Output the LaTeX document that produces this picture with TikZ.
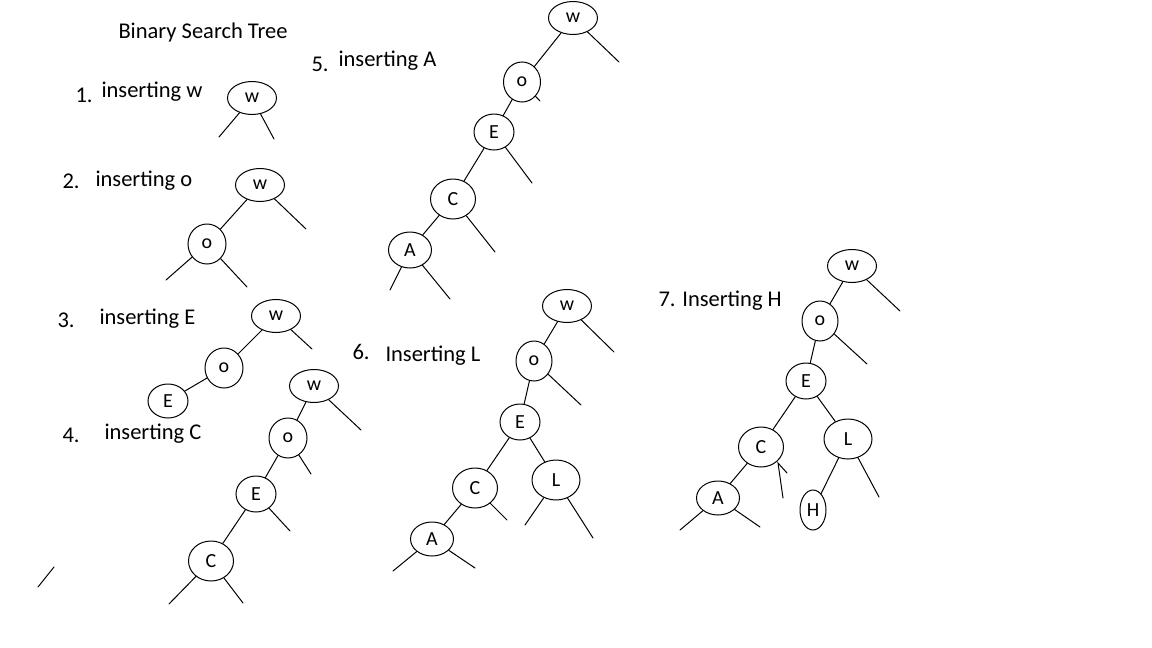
\documentclass[tikz,border=0pt]{standalone}
\usepackage{fontspec}
\setmainfont{Carlito}
\usetikzlibrary{shapes.geometric}

\begin{document}
\begin{tikzpicture}[x=1pt,y=-1pt,line cap=round,line width=1pt,
    txt/.style={anchor=west,inner sep=0pt,font=\fontsize{22.5}{24}\selectfont},
    key/.style={ellipse,draw,inner sep=0pt,minimum width=49pt,minimum height=33pt,font=\fontsize{20}{22}\selectfont},
    rnd/.style={ellipse,draw,inner sep=0pt,minimum width=38pt,minimum height=40pt,font=\fontsize{20}{22}\selectfont}]
    \useasboundingbox (0,0) rectangle (1152,648);

    % titles
    \node[txt] (title) at (118,33) {Binary Search Tree};
    \node[txt] (n1) at (75,95) {1.};
    \node[txt] (t1) at (101,92) {inserting w};
    \node[txt] (n2) at (62,181) {2.};
    \node[txt] (t2) at (95,181) {inserting o};
    \node[txt] (n3) at (57,320) {3.};
    \node[txt] (t3) at (99,319) {inserting E};
    \node[txt] (n4) at (62,435) {4.};
    \node[txt] (t4) at (104,434) {inserting C};
    \node[txt] (n5) at (311,64) {5.};
    \node[txt] (t5) at (338,61) {inserting A};
    \node[txt] (n6) at (352,352) {6.};
    \node[txt] (t6) at (385,356) {Inserting L};
    \node[txt] (t7) at (658,301) {7. Inserting H};

    % tree 1
    \node[key] (w1) at (252,98) {w};
    \coordinate (w1l) at (219,137);
    \coordinate (w1r) at (274,139);
    \draw (w1) -- (w1l);
    \draw (w1) -- (w1r);

    % tree 2
    \node[key] (w2) at (260,185) {w};
    \node[rnd] (o2) at (207,244) {o};
    \coordinate (w2r) at (306,229);
    \coordinate (o2l) at (166,280);
    \coordinate (o2r) at (247,287);
    \draw (w2) -- (o2);
    \draw (w2) -- (w2r);
    \draw (o2) -- (o2l);
    \draw (o2) -- (o2r);

    % tree 3
    \node[key] (w3) at (276,316) {w};
    \node[rnd] (o3) at (224,368) {o};
    \node[rnd,minimum width=40pt,minimum height=34pt] (E3) at (168,401) {E};
    \coordinate (w3r) at (312,349);
    \draw (w3) -- (o3);
    \draw (o3) -- (E3);
    \draw (w3) -- (w3r);

    % tree 4
    \node[key] (w4) at (314,386) {w};
    \node[rnd] (o4) at (288,438) {o};
    \node[rnd,minimum width=40pt,minimum height=36pt] (E4) at (256,494) {E};
    \node[rnd,minimum width=45pt,minimum height=40pt] (C4) at (211,561) {C};
    \coordinate (w4r) at (361,430);
    \coordinate (o4r) at (311,474);
    \coordinate (E4r) at (290,531);
    \coordinate (C4l) at (169,604);
    \coordinate (C4r) at (243,603);
    \draw (w4) -- (o4);
    \draw (o4) -- (E4);
    \draw (E4) -- (C4);
    \draw (w4) -- (w4r);
    \draw (o4) -- (o4r);
    \draw (E4) -- (E4r);
    \draw (C4) -- (C4l);
    \draw (C4) -- (C4r);

    % stray stroke
    \coordinate (s1) at (38,587);
    \coordinate (s2) at (54,567);
    \draw (s1) -- (s2);

    % tree 5
    \node[key] (w5) at (573,18) {w};
    \node[rnd,minimum width=37pt] (o5) at (522,82) {o};
    \node[rnd,minimum width=40pt,minimum height=36pt] (E5) at (494,132) {E};
    \node[rnd,minimum width=45pt,minimum height=40pt] (C5) at (453,199) {C};
    \node[rnd,minimum width=43pt,minimum height=36pt] (A5) at (410,250) {A};
    \coordinate (w5r) at (619,62);
    \coordinate (o5r) at (540,101);
    \coordinate (E5r) at (532,183);
    \coordinate (C5r) at (495,252);
    \coordinate (A5l) at (390,290);
    \coordinate (A5r) at (450,299);
    \draw (w5) -- (o5);
    \draw (o5) -- (E5);
    \draw (E5) -- (C5);
    \draw (C5) -- (A5);
    \draw (w5) -- (w5r);
    \draw (o5) -- (o5r);
    \draw (E5) -- (E5r);
    \draw (C5) -- (C5r);
    \draw (A5) -- (A5l);
    \draw (A5) -- (A5r);

    % tree 6
    \node[key] (w6) at (567,306) {w};
    \node[rnd,minimum width=36pt] (o6) at (534,361) {o};
    \node[rnd,minimum width=40pt,minimum height=36pt] (E6) at (520,422) {E};
    \node[rnd,minimum width=45pt,minimum height=40pt] (C6) at (475,488) {C};
    \node[rnd,minimum width=48pt,minimum height=40pt] (L6) at (556,480) {L};
    \node[rnd,minimum width=43pt,minimum height=34pt] (A6) at (432,539) {A};
    \coordinate (w6r) at (614,352);
    \coordinate (o6r) at (581,405);
    \coordinate (C6r) at (507,520);
    \coordinate (A6l) at (393,571);
    \coordinate (A6r) at (475,568);
    \coordinate (L6l) at (525,525);
    \coordinate (L6r) at (593,538);
    \draw (w6) -- (o6);
    \draw (o6) -- (E6);
    \draw (E6) -- (C6);
    \draw (E6) -- (L6);
    \draw (C6) -- (A6);
    \draw (w6) -- (w6r);
    \draw (o6) -- (o6r);
    \draw (C6) -- (C6r);
    \draw (A6) -- (A6l);
    \draw (A6) -- (A6r);
    \draw (L6) -- (L6l);
    \draw (L6) -- (L6r);

    % tree 7
    \node[key] (w7) at (852,266) {w};
    \node[rnd,minimum width=36pt] (o7) at (820,321) {o};
    \node[rnd,minimum width=40pt,minimum height=36pt] (E7) at (806,381) {E};
    \node[rnd,minimum width=45pt,minimum height=40pt] (C7) at (761,447) {C};
    \node[rnd,minimum width=48pt,minimum height=40pt] (L7) at (848,439) {L};
    \node[rnd,minimum width=43pt,minimum height=34pt] (A7) at (718,498) {A};
    \node[rnd,minimum width=26pt,minimum height=40pt] (H7) at (813,510) {H};
    \coordinate (w7r) at (900,311);
    \coordinate (o7r) at (867,364);
    \coordinate (A7l) at (680,530);
    \coordinate (A7r) at (760,527);
    \coordinate (L7r) at (879,497);
    \coordinate (C7b) at (783,498);
    \coordinate (C7t) at (778,463);
    \coordinate (C7h) at (787,473);
    \draw (w7) -- (o7);
    \draw (o7) -- (E7);
    \draw (E7) -- (C7);
    \draw (E7) -- (L7);
    \draw (C7) -- (A7);
    \draw (L7) -- (H7);
    \draw (w7) -- (w7r);
    \draw (o7) -- (o7r);
    \draw (A7) -- (A7l);
    \draw (A7) -- (A7r);
    \draw (L7) -- (L7r);
    \draw (C7b) -- (C7t) -- (C7h);

\end{tikzpicture}
\end{document}
